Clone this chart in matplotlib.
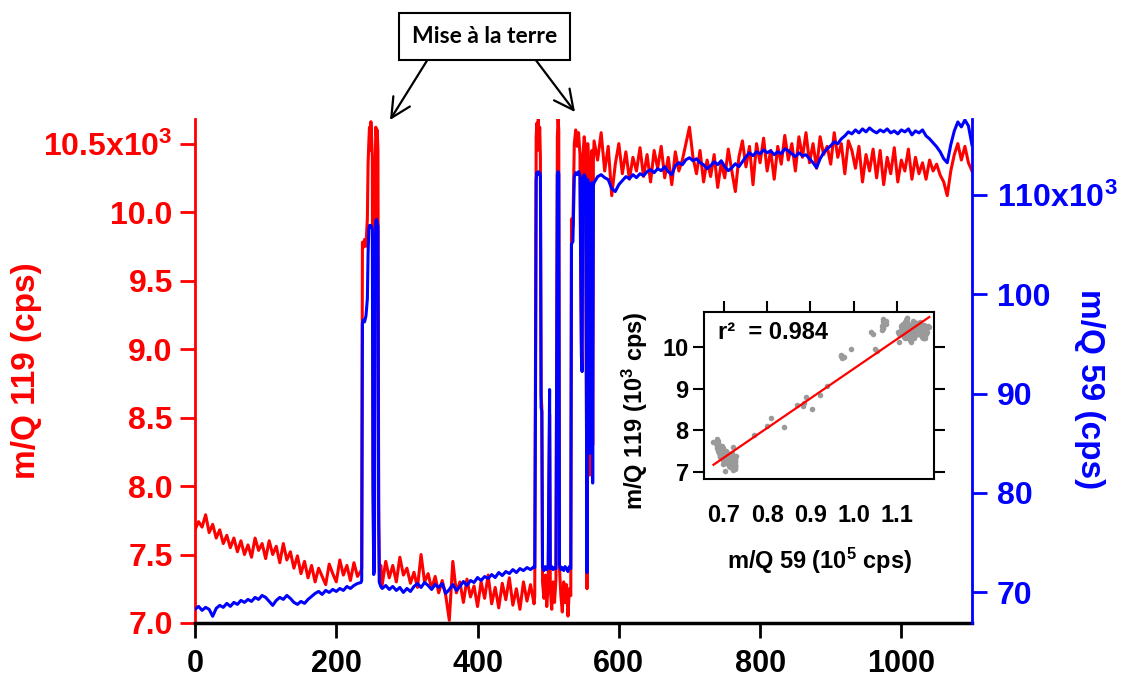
import numpy as np
import matplotlib
matplotlib.use("Agg")
import matplotlib.pyplot as plt

plt.rcParams['font.family'] = ['Liberation Sans', 'DejaVu Sans']
plt.rcParams['font.weight'] = 'bold'
plt.rcParams['mathtext.fontset'] = 'custom'
plt.rcParams['mathtext.rm'] = 'Liberation Sans:bold'
plt.rcParams['mathtext.it'] = 'Liberation Sans:bold'
plt.rcParams['mathtext.bf'] = 'Liberation Sans:bold'

# --- data (time in s, m/Q 119 in 10^3 cps, m/Q 59 in 10^3 cps) ---
# baseline before the first grounding
time_a = np.arange(0, 240, 5)
m119_a = [7.68, 7.74, 7.70, 7.79, 7.66, 7.72, 7.62, 7.68, 7.58, 7.64,
          7.55, 7.62, 7.52, 7.60, 7.50, 7.57, 7.48, 7.62, 7.53, 7.58,
          7.47, 7.60, 7.50, 7.56, 7.44, 7.58, 7.46, 7.52, 7.40, 7.49,
          7.36, 7.45, 7.33, 7.42, 7.30, 7.40, 7.34, 7.28, 7.43, 7.36,
          7.30, 7.46, 7.35, 7.42, 7.31, 7.44, 7.34, 7.38]
m59_a = [68.3, 68.6, 68.2, 68.5, 68.3, 67.6, 68.4, 68.7, 68.5, 68.9,
         68.6, 69.0, 68.8, 69.2, 69.0, 69.3, 69.1, 69.5, 69.3, 69.7,
         69.5, 69.1, 68.7, 69.2, 69.5, 69.3, 69.7, 69.4, 69.0, 68.8,
         69.1, 68.9, 69.3, 69.6, 69.9, 70.1, 69.8, 70.2, 70.0, 70.3,
         70.1, 70.4, 70.2, 70.6, 70.4, 70.7, 70.9, 71.0]

# first grounding
time_b = [236, 237, 238, 240, 242, 244, 245, 246, 247, 248, 249, 250,
          251, 252, 253, 254, 255, 256, 257, 258, 259, 260, 261, 263]
m119_b = [7.40, 9.78, 9.74, 9.80, 9.75, 9.95, 10.35, 10.50, 10.62, 10.45, 10.66, 10.55,
          10.40, 8.10, 7.45, 7.60, 10.30, 10.62, 10.55, 10.60, 10.45, 7.90, 7.30, 7.42]
m59_b = [71.2, 97.0, 97.4, 97.2, 97.8, 99.5, 104.0, 106.5, 106.9, 106.7, 106.9, 106.8,
         106.5, 80.0, 71.8, 72.2, 104.5, 107.4, 107.5, 107.2, 106.8, 77.0, 71.0, 70.6]

# baseline between the two groundings
time_c = np.arange(265, 481, 5)
m119_c = [7.28, 7.45, 7.33, 7.42, 7.30, 7.48, 7.35, 7.40, 7.29, 7.37,
          7.26, 7.50, 7.30, 7.36, 7.25, 7.34, 7.22, 7.31, 7.20, 7.02,
          7.45, 7.22, 7.30, 7.15, 7.32, 7.19, 7.27, 7.12, 7.30, 7.18,
          7.35, 7.14, 7.26, 7.11, 7.29, 7.17, 7.33, 7.13, 7.25, 7.10,
          7.30, 7.16, 7.28, 7.14]
m59_c = [70.4, 70.7, 70.3, 70.6, 70.2, 70.5, 70.0, 70.4, 70.1, 70.6,
         70.9, 70.5, 71.0, 70.7, 70.3, 70.8, 70.5, 70.9, 69.9, 70.3,
         70.8, 70.2, 70.6, 71.1, 70.7, 71.2, 71.0, 71.5, 71.2, 71.6,
         71.4, 71.8, 71.5, 72.0, 71.7, 72.1, 71.9, 72.3, 72.0, 72.4,
         72.2, 72.5, 72.3, 72.6]

# second grounding
time_d = [481, 482, 483, 484, 485, 486, 487, 488, 489, 490, 491, 492,
          494, 496, 498, 500, 502, 503, 505, 507, 509, 511,
          513, 514, 515, 516, 518, 520, 522, 524, 526, 528, 530, 532,
          533, 535, 537, 539, 541, 543, 545, 547, 548, 549, 551, 553,
          555, 556, 557, 558, 559, 560, 561, 562, 563, 564]
m119_d = [7.20, 8.80, 10.55, 10.65, 10.45, 10.68, 10.50, 10.62, 10.40, 8.66, 8.58, 7.30,
          7.18, 7.35, 7.12, 7.28, 8.52, 7.25, 7.10, 7.30, 7.15, 7.32,
          10.55, 10.68, 10.60, 7.40, 7.20, 7.08, 7.30, 7.15, 7.28, 7.05, 7.25, 7.20,
          9.95, 9.90, 10.50, 10.60, 10.48, 10.58, 10.42, 9.05, 8.85, 10.40, 10.55, 10.45,
          7.25, 10.50, 10.35, 8.60, 8.08, 10.40, 10.30, 10.45, 8.30, 10.38]
m59_d = [72.5, 89.0, 111.5, 112.2, 112.0, 112.3, 112.1, 112.2, 111.9, 88.6, 88.2, 72.5,
         72.2, 72.6, 72.3, 72.5, 90.4, 72.4, 72.6, 72.3, 72.5, 72.4,
         112.0, 112.3, 112.1, 72.8, 72.3, 72.5, 72.2, 72.6, 72.4, 72.1, 72.6, 72.4,
         105.0, 105.3, 111.8, 112.2, 112.0, 112.3, 111.9, 93.8, 92.2, 111.6, 112.0, 111.7,
         72.0, 111.5, 110.8, 87.0, 84.0, 111.0, 110.5, 111.2, 81.0, 110.9]

# plateau after grounding
time_e = np.arange(565, 1101, 5)
m119_e = [10.52, 10.38, 10.58, 10.30, 10.48, 10.12, 10.35, 10.50, 10.28, 10.44,
          10.24, 10.40, 10.30, 10.47, 10.26, 10.42, 10.22, 10.45, 10.32, 10.48,
          10.25, 10.40, 10.20, 10.44, 10.30, 10.38, 10.50, 10.62, 10.40, 10.28,
          10.45, 10.22, 10.38, 10.26, 10.42, 10.18, 10.36, 10.25, 10.46, 10.30,
          10.15, 10.40, 10.52, 10.33, 10.48, 10.20, 10.50, 10.36, 10.54, 10.30,
          10.45, 10.24, 10.48, 10.35, 10.56, 10.38, 10.50, 10.30, 10.55, 10.40,
          10.58, 10.36, 10.50, 10.32, 10.55, 10.42, 10.48, 10.35, 10.58, 10.40,
          10.50, 10.28, 10.52, 10.45, 10.32, 10.48, 10.22, 10.42, 10.30, 10.46,
          10.25, 10.45, 10.20, 10.40, 10.28, 10.47, 10.22, 10.38, 10.30, 10.46,
          10.24, 10.40, 10.28, 10.36, 10.24, 10.38, 10.30, 10.35, 10.27, 10.22,
          10.12, 10.30, 10.42, 10.50, 10.38, 10.48, 10.36, 10.30]
m59_e = [111.2, 111.8, 112.0, 111.7, 111.5, 110.6, 110.3, 111.0, 111.4, 111.8,
         111.6, 112.0, 111.7, 112.1, 111.9, 112.3, 112.5, 112.2, 112.6, 112.4,
         112.8, 112.3, 112.0, 112.9, 113.2, 113.0, 113.5, 113.7, 113.4, 113.6,
         113.2, 113.0, 112.6, 112.9, 113.3, 113.0, 113.4, 112.8, 112.4, 112.7,
         113.1, 112.8, 113.3, 113.8, 114.2, 113.9, 114.3, 114.1, 114.5, 114.2,
         114.4, 114.0, 114.3, 114.1, 114.6, 114.4, 114.1, 113.8, 114.2, 113.9,
         114.0, 113.6, 113.2, 112.7, 113.6, 114.2, 114.6, 114.9, 115.3, 115.1,
         115.6, 115.9, 116.3, 116.1, 116.5, 116.2, 116.6, 116.3, 116.7, 116.4,
         116.2, 116.5, 116.3, 116.6, 116.2, 116.4, 116.1, 116.5, 116.3, 116.6,
         116.0, 116.4, 116.2, 116.5, 115.9, 115.6, 115.2, 114.8, 114.3, 113.6,
         113.2, 115.0, 116.4, 117.3, 116.8, 117.5, 116.9, 115.0]

time = np.concatenate([time_a, time_b, time_c, time_d, time_e])
m119 = np.concatenate([m119_a, m119_b, m119_c, m119_d, m119_e])
m59 = np.concatenate([m59_a, m59_b, m59_c, m59_d, m59_e])

red_ticks = [7.0, 7.5, 8.0, 8.5, 9.0, 9.5, 10.0, 10.5]
red_labels = ['7.0', '7.5', '8.0', '8.5', '9.0', '9.5', '10.0', '10.5x10$^{3}$']
blue_ticks = [70, 80, 90, 100, 110]
blue_labels = ['70', '80', '90', '100', '110x10$^{3}$']
x_ticks = [0, 200, 400, 600, 800, 1000]
inset_xticks = [0.7, 0.8, 0.9, 1.0, 1.1]
inset_yticks = [7, 8, 9, 10]

# --- figure ---
fig = plt.figure(figsize=(11.26, 6.79), dpi=100)
ax = fig.add_axes([0.1732, 0.0825, 0.6900, 0.7423])
ax2 = ax.twinx()

ax.plot(time, m119, color='#ff0000', lw=2.2)
ax2.plot(time, m59, color='#0000ff', lw=2.2)

ax.set_xlim(0, 1100)
ax.set_ylim(7.0, 10.68)
ax2.set_ylim(66.93, 117.6)

ax.set_xticks(x_ticks)
ax.set_xticklabels([str(v) for v in x_ticks], fontsize=22, fontweight='bold')
ax.set_yticks(red_ticks)
ax.set_yticklabels(red_labels, fontsize=23, fontweight='bold', color='#ff0000')
ax2.set_yticks(blue_ticks)
ax2.set_yticklabels(blue_labels, fontsize=23, fontweight='bold', color='#0000ff')

ax.tick_params(axis='x', direction='out', length=11, width=2, color='black', pad=8)
ax.tick_params(axis='y', direction='out', length=11, width=2, color='#ff0000', pad=5)
ax2.tick_params(axis='y', direction='out', length=11, width=2, color='#0000ff', pad=7)

for a in (ax, ax2):
    a.spines['top'].set_visible(False)
ax.spines['left'].set_color('#ff0000')
ax.spines['left'].set_linewidth(2)
ax.spines['bottom'].set_linewidth(2.5)
ax2.spines['right'].set_color('#0000ff')
ax2.spines['right'].set_linewidth(2)
ax2.spines['left'].set_visible(False)
ax2.spines['bottom'].set_visible(False)

ax.set_ylabel('m/Q 119 (cps)', color='#ff0000', fontsize=24, fontweight='bold')
ax.yaxis.set_label_coords(-0.197, 0.5)
ax2.set_ylabel('m/Q 59 (cps)', color='#0000ff', fontsize=24, fontweight='bold', rotation=-90)
ax2.yaxis.set_label_coords(1.171, 0.465)

# --- annotation box with arrows ---
fig.text(0.4303, 0.9462, 'Mise à la terre', family=['Lato', 'Liberation Sans'], fontsize=16.5,
         fontweight='bold', ha='center', va='center',
         bbox=dict(boxstyle='square,pad=0.55', fc='white', ec='black', lw=1.5))
arrow = dict(arrowstyle='->,head_length=0.7,head_width=0.35', lw=1.6, color='black',
             mutation_scale=20, shrinkA=0, shrinkB=0)
fig.add_artist(matplotlib.patches.FancyArrowPatch((428 / 1126, 1 - 59 / 679), (390 / 1126, 1 - 120 / 679),
                                                  transform=fig.transFigure, **arrow))
fig.add_artist(matplotlib.patches.FancyArrowPatch((535 / 1126, 1 - 59 / 679), (575 / 1126, 1 - 112 / 679),
                                                  transform=fig.transFigure, **arrow))

# --- inset: correlation ---
axin = fig.add_axes([0.6252, 0.2946, 0.2043, 0.2459])
axin.set_zorder(5)
axin.set_facecolor('white')
sx = m59 / 100.0
sy = m119
axin.scatter(sx, sy, s=16, color='#9a9a9a', zorder=2, linewidths=0)
slope, intercept = np.polyfit(sx, sy, 1)
fx = np.array([sx.min(), sx.max()])
axin.plot(fx, slope * fx + intercept, color='#ff0000', lw=1.6, zorder=3)

axin.set_xlim(0.654, 1.186)
axin.set_ylim(6.84, 10.83)
axin.set_xticks(inset_xticks)
axin.set_xticklabels(['%.1f' % v for v in inset_xticks], fontsize=17, fontweight='bold')
axin.set_yticks(inset_yticks)
axin.set_yticklabels([str(v) for v in inset_yticks], fontsize=17, fontweight='bold')
axin.tick_params(axis='x', top=True, bottom=False, labelbottom=True, direction='out',
                 length=8, width=1.5, pad=10)
axin.tick_params(axis='y', left=True, right=True, direction='out', length=8, width=1.5, pad=3)
for s in axin.spines.values():
    s.set_linewidth(1.5)
axin.set_xlabel('m/Q 59 (10$^{5}$ cps)', fontsize=17, fontweight='bold')
axin.xaxis.set_label_coords(0.504, -0.40)
axin.set_ylabel('m/Q 119 (10$^{3}$ cps)', fontsize=17, fontweight='bold')
axin.yaxis.set_label_coords(-0.235, 0.41)
axin.text(0.06, 0.876, 'r²  = 0.984', transform=axin.transAxes, fontsize=17,
          fontweight='bold', ha='left', va='center')

fig.savefig('out.png', dpi=100)
